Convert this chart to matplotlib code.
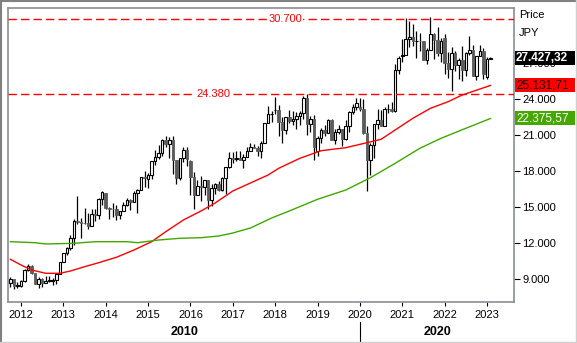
import matplotlib.pyplot as plt
import matplotlib.transforms as mtransforms
from matplotlib.patches import Rectangle
from matplotlib.lines import Line2D
import pandas as pd

plt.rcParams['font.family'] = ['Liberation Sans', 'DejaVu Sans']

# Nikkei 225, monthly candles from Oct 2011 to Feb 2023 (JPY)
start_month = '2011-10'
opens = [
    8700, 8988, 8434,
    8455, 8802, 9723, 10083, 9520, 8542, 9006, 8695, 8839, 8870, 8928, 9446,
    10395, 11138, 11559, 12397, 13861, 13774, 13677, 13668, 13389, 14455, 14327, 15662,
    16147, 14915, 14841, 14828, 14304, 14632, 15162, 15621, 15425, 16174, 16414, 17460,
    17325, 17674, 18798, 19207, 19520, 20563, 20236, 20585, 18890, 17388, 19083, 19747,
    18818, 17518, 16027, 16759, 16666, 17235, 15576, 16569, 16887, 16450, 17425, 18308,
    19114, 19041, 19119, 18909, 19197, 19651, 20033, 19925, 19646, 20356, 22012, 22725,
    23073, 23098, 22068, 21454, 22468, 22202, 22305, 22554, 22865, 24120, 21920, 22351,
    19655, 20773, 21385, 21206, 22259, 20601, 21276, 21521, 20704, 21756, 22927, 23294,
    23319, 23205, 21143, 18917, 20194, 21878, 22288, 21710, 23140, 23185, 22977, 26434,
    27575, 27663, 28966, 29179, 28813, 28860, 28792, 27284, 28090, 29453, 28893, 27822,
    29098, 27002, 26527, 27821, 26848, 27280, 26393, 27802, 28092, 25937, 27587, 27969,
    25834, 27346,
]
highs = [
    9152, 9012, 8723,
    8923, 9866, 10255, 10190, 9536, 9132, 9098, 9222, 9288, 9082, 9460, 10433,
    11150, 11662, 12650, 13980, 15942, 14099, 14953, 14466, 14817, 14799, 15750, 16320,
    16164, 15000, 15311, 15164, 14656, 15376, 15759, 15641, 16374, 16533, 17520, 18030,
    17850, 18826, 19778, 20133, 20655, 20952, 20850, 20946, 18890, 19115, 20012, 20012,
    18951, 17905, 17291, 17613, 17251, 17235, 16938, 17000, 17156, 17487, 18308, 19592,
    19615, 19668, 19656, 19445, 19961, 20318, 20223, 20080, 20481, 22012, 23382, 23000,
    24129, 23486, 22502, 22494, 23050, 23011, 22949, 23032, 24286, 24448, 22583, 22698,
    20941, 21556, 21860, 22362, 22307, 21464, 21823, 21540, 22255, 22974, 23608, 24091,
    24115, 23995, 21719, 20365, 21917, 23185, 23111, 23338, 23622, 23725, 26894, 27602,
    28979, 30715, 30485, 30209, 29685, 29480, 28852, 28240, 30795, 29490, 29960, 29121,
    29388, 27880, 28338, 28000, 27434, 28389, 27915, 29222, 28534, 27587, 28502, 28226,
    27502, 27520,
]
lows = [
    8343, 8135, 8272,
    8349, 8774, 9706, 9388, 8542, 8238, 8328, 8650, 8756, 8488, 8619, 9380,
    10380, 10982, 11406, 11805, 13555, 12415, 13590, 13188, 13388, 13853, 14034, 15153,
    14799, 13995, 14203, 13885, 13964, 14632, 15062, 14753, 15425, 14529, 16414, 16672,
    16592, 17335, 18522, 19034, 19258, 19997, 19115, 17714, 16901, 17234, 18755, 18410,
    16017, 14865, 16017, 15471, 15975, 14864, 15095, 16043, 16357, 16358, 16112, 18227,
    18650, 18806, 18909, 18224, 19197, 19651, 19925, 19280, 19081, 20356, 21972, 22119,
    22765, 20950, 20347, 21055, 22018, 21859, 21462, 21851, 22307, 20971, 21243, 18949,
    19241, 20315, 20911, 21206, 20555, 20289, 21046, 20110, 20625, 21276, 22726, 23044,
    22977, 21082, 16358, 17646, 19084, 21530, 21710, 21710, 22827, 22948, 22948, 26063,
    27055, 27663, 28308, 28419, 27385, 28010, 27272, 26954, 28090, 27293, 27588, 27094,
    26044, 25775, 24682, 26304, 25688, 25520, 25935, 27651, 25937, 25621, 27569, 25661,
    25661, 27300,
]
closes = [
    8988, 8434, 8455,
    8802, 9723, 10083, 9520, 8542, 9006, 8695, 8839, 8870, 8928, 9446, 10395,
    11138, 11559, 12397, 13861, 13774, 13677, 13668, 13389, 14455, 14327, 15662, 16291,
    14915, 14841, 14828, 14304, 14632, 15162, 15621, 15425, 16174, 16414, 17460, 17451,
    17674, 18798, 19207, 19520, 20563, 20236, 20585, 18890, 17388, 19083, 19747, 19034,
    17518, 16027, 16759, 16666, 17235, 15576, 16569, 16887, 16450, 17425, 18308, 19114,
    19041, 19119, 18909, 19197, 19651, 20033, 19925, 19646, 20356, 22012, 22725, 22765,
    23098, 22068, 21454, 22468, 22202, 22305, 22554, 22865, 24120, 21920, 22351, 20015,
    20773, 21385, 21206, 22259, 20601, 21276, 21521, 20704, 21756, 22927, 23294, 23657,
    23205, 21143, 18917, 20194, 21878, 22288, 21710, 23140, 23185, 22977, 26434, 27444,
    27663, 28966, 29179, 28813, 28860, 28792, 27284, 28090, 29453, 28893, 27822, 28792,
    27002, 26527, 27821, 26848, 27280, 26393, 27802, 28092, 25937, 27587, 27969, 26095,
    27327, 27427.32,
]

# moving averages (red = shorter, green = longer)
red_ma_months = ['2011-10', '2012-01', '2012-04', '2012-08', '2012-12', '2013-03',
                 '2013-07', '2013-11', '2014-04', '2014-09', '2015-02', '2015-06',
                 '2015-11', '2016-04', '2016-08', '2017-01', '2017-06', '2017-11',
                 '2018-02', '2018-08', '2019-02', '2019-09', '2020-03', '2020-07',
                 '2020-11', '2021-04', '2021-09', '2022-02', '2022-06', '2023-02']
red_ma = [10642, 10167, 9750, 9475, 9475, 9667,
          10025, 10358, 10808, 11417, 12108, 12942,
          13917, 14667, 15333, 16333, 17000, 17667,
          18225, 19058, 19692, 19942, 20358, 20642,
          21417, 22392, 23225, 23775, 24333, 25131.71]
green_ma_months = ['2011-10', '2012-05', '2012-08', '2013-04', '2013-10', '2014-07',
                   '2014-10', '2015-04', '2015-10', '2016-04', '2016-09', '2017-01',
                   '2017-06', '2017-12', '2018-05', '2019-01', '2019-09', '2020-04',
                   '2020-11', '2021-06', '2021-12', '2022-07', '2023-02']
green_ma = [12108, 12025, 11917, 11975, 12108, 12108,
            12025, 12250, 12392, 12442, 12583, 12833,
            13250, 14083, 14667, 15642, 16417, 17442,
            18642, 19892, 20725, 21558, 22375.57]

levels = [30700, 24380]
y_ticks = [9000, 12000, 15000, 18000, 21000, 24000, 27000]
years = list(range(2012, 2024))
decades = ['2010', '2020']
last_values = [27427.32, 25131.71, 22375.57]


def month_index(s):
    p = pd.Period(s, freq='M')
    return (p.year - 2012) * 12 + p.month - 1


def eu(v, dec=0):
    s = f'{v:,.{dec}f}'
    return s.replace(',', '#').replace('.', ',').replace('#', '.')


W, H = 577, 343
fig = plt.figure(figsize=(W / 100, H / 100), dpi=100)
ax = fig.add_axes([8 / W, 1 - 302 / H, 506 / W, 294 / H])

x0 = month_index(start_month)
xs = [x0 + i for i in range(len(closes))]

# wicks and bodies
bw = 0.72
ax.vlines(xs, lows, highs, color='black', lw=0.9, zorder=2)
for x, o, c in zip(xs, opens, closes):
    lo, hi = min(o, c), max(o, c)
    if c >= o:
        r = Rectangle((x - bw / 2, lo), bw, max(hi - lo, 40), facecolor='white',
                      edgecolor='black', lw=0.8, zorder=3)
    else:
        r = Rectangle((x - bw / 2, lo), bw, max(hi - lo, 40), facecolor='#5c5c5c',
                      edgecolor='#5c5c5c', lw=0.6, zorder=3)
    ax.add_patch(r)

ax.plot([month_index(m) for m in red_ma_months], red_ma, color='#ff0000', lw=1.0, zorder=4)
ax.plot([month_index(m) for m in green_ma_months], green_ma, color='#3fa800', lw=1.0, zorder=4)

for lv, lx in zip(levels, [74.8, 54.4]):
    ax.axhline(lv, color='#ff0000', lw=1.0, dashes=(6, 3), zorder=5)
    ax.text(lx, lv, eu(lv), color='#ff0000', fontsize=8, ha='center', va='center', zorder=6,
            bbox=dict(facecolor='white', edgecolor='none', pad=1))

ax.set_xlim((8 - 21) / 3.53, (514 - 21) / 3.53)
ax.set_ylim(24000 - 203 * 1000 / 12, 24000 + 91 * 1000 / 12)

ax.set_xticks([(y - 2012) * 12 for y in years])
ax.set_xticklabels([str(y) for y in years])
ax.set_yticks(y_ticks)
ax.set_yticklabels([eu(v) for v in y_ticks])
ax.yaxis.tick_right()
ax.tick_params(axis='x', length=3, width=0.8, pad=3, labelsize=8)
ax.tick_params(axis='y', length=4, width=0.8, pad=2, labelsize=8)
for sp in ax.spines.values():
    sp.set_color('#8c8c96')
    sp.set_linewidth(1.2)

# price panel on the right
fig.text(519 / W, 1 - 15 / H, 'Price', fontsize=8, va='center', ha='left')
fig.text(519 / W, 1 - 33 / H, 'JPY', fontsize=8, va='center', ha='left')
tr = mtransforms.blended_transform_factory(fig.transFigure, ax.transData)
box_h = 14 * 1000 / 12
styles = [('black', 'white', 'bold'), ('#ff0000', '#1a0000', 'normal'), ('#44a800', 'white', 'normal')]
for v, (fc, tc, fw) in zip(last_values, styles):
    fig.add_artist(Rectangle((515 / W, v - box_h / 2), 60 / W, box_h, transform=tr,
                             facecolor=fc, edgecolor='none', zorder=10))
    fig.text(516 / W, v, eu(v, 2), transform=tr, color=tc, fontsize=8.5, fontweight=fw,
             va='center', ha='left', zorder=11)

# decade row under the years
fig.text(184.5 / W, 1 - 332 / H, decades[0], fontsize=9, fontweight='bold', ha='center', va='center')
fig.text(438 / W, 1 - 332 / H, decades[1], fontsize=9, fontweight='bold', ha='center', va='center')
fig.add_artist(Line2D([360 / W, 360 / W], [1 - 322 / H, 1 - 341 / H], color='black', lw=0.8))

# outer panel frame
fig.add_artist(Line2D([1 / W, 1 / W], [0, 1], color='#808080', lw=1.5))
fig.add_artist(Line2D([0, 1], [1 - 1 / H, 1 - 1 / H], color='#808080', lw=1.5))
fig.add_artist(Line2D([575.5 / W, 575.5 / W], [0, 1], color='#d0d0d0', lw=1.0))
fig.add_artist(Line2D([0, 1], [1.5 / H, 1.5 / H], color='#d0d0d0', lw=1.0))

fig.savefig('out.png', dpi=100)
